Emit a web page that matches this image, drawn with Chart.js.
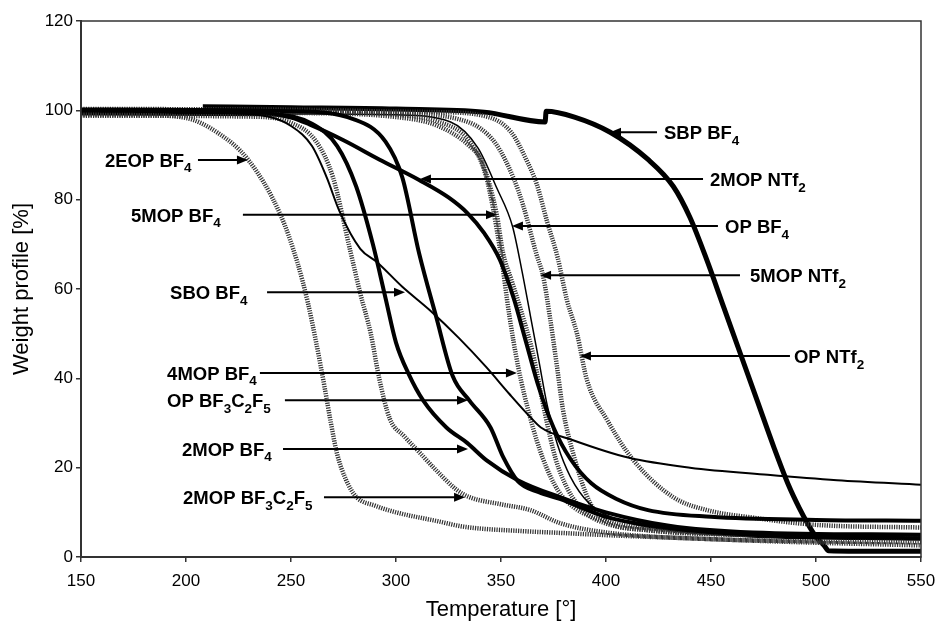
<!DOCTYPE html>
<html>
<head>
<meta charset="utf-8">
<script src="https://cdn.jsdelivr.net/npm/chart.js@4"></script>
<style>
  html, body { margin: 0; background: #fff; }
  #wrap { width: 937px; height: 623px; }
</style>
</head>
<body>
<div id="wrap"><canvas id="tga"></canvas></div>
<script>
// axis ticks
const xTicks = [150, 200, 250, 300, 350, 400, 450, 500, 550];
const yTicks = [0, 20, 40, 60, 80, 100, 120];

// temperature [°] / weight [%]
const t2EOP = [150, 180, 200, 215, 229.5, 245, 253, 258, 262, 266, 269, 272, 276, 281, 290, 300, 320, 332, 360, 378, 400, 450, 500, 550];
const w2EOP = [99.0, 98.9, 98.3, 95, 89, 76.6, 66, 57, 48, 38, 30, 23, 17.5, 13.5, 11.5, 10, 8, 6.8, 5.8, 5.4, 4.9, 4, 3.2, 2.6];

const tSBO = [150, 220, 240, 250, 260, 267, 273, 283, 291, 303, 316, 330, 343, 354, 364, 369, 384, 411, 440, 477, 510, 550];
const wSBO = [99.6, 99.4, 98.5, 96.5, 92, 85, 77.5, 69, 66, 60.5, 55.3, 49, 42.5, 36.5, 31.3, 29, 26.2, 22.2, 20, 18.4, 17.2, 16.2];

const t2MOPBF3 = [150, 230, 250, 262, 270, 278, 283, 288, 292, 297, 304, 310, 320, 329, 335, 350, 364, 378, 400, 450, 500, 550];
const w2MOPBF3 = [98.8, 98.6, 97.2, 93, 85, 69, 59, 50, 40, 31, 27, 24, 19, 15, 13.4, 11.8, 10.5, 7.6, 5.5, 4, 3.5, 3.3];

const t2MOPBF4 = [150, 240, 260, 272, 281, 289, 295, 300, 306, 313, 324, 334, 343, 358, 378, 400, 430, 470, 550];
const w2MOPBF4 = [99.3, 99.1, 97, 92, 83, 70, 58, 48, 41, 35, 29, 25.5, 21.7, 17.2, 13.4, 10, 7, 5.5, 5];

const tOPBF3 = [150, 250, 280, 295, 303, 311, 319, 327, 335, 345, 351, 358, 368, 378, 400, 430, 470, 550];
const wOPBF3 = [100.2, 99.8, 98, 93, 85, 68, 54, 40.5, 35, 29, 22.4, 17, 14.5, 13, 9, 6.5, 5, 4.2];

const t2MOPNTf2 = [150, 230, 250, 259, 275, 292, 311, 325, 334, 342, 349.5, 356, 362, 368, 375, 383, 393, 405, 420, 450, 500, 550];
const w2MOPNTf2 = [99.8, 99.5, 98.4, 96.8, 93.3, 89, 84.4, 80.5, 77, 72.5, 66.5, 58, 48, 38, 29, 22, 16.5, 13, 10.5, 9, 8.3, 8.1];

const t5MOPBF4 = [150, 250, 300, 320, 335, 341, 348, 351, 355, 359, 365, 371, 376, 382, 390, 400, 420, 450, 500, 550];
const w5MOPBF4 = [99.5, 99.4, 98.5, 96.5, 92, 88.4, 76.6, 68, 62, 56, 46, 32, 22, 15, 10, 7.5, 6, 5.2, 4.7, 4.5];

const t4MOPBF4 = [150, 250, 300, 320, 335, 343, 349.5, 354, 358, 364, 370, 377, 385, 400, 430, 470, 550];
const w4MOPBF4 = [100.0, 99.8, 99, 97.5, 93, 85, 69, 54, 43, 31, 22, 15, 11, 8, 6, 5, 4.8];

const tOPBF4 = [150, 260, 300, 326, 339, 348, 355.5, 360, 364, 368, 372, 377, 383, 392, 405, 430, 470, 550];
const wOPBF4 = [99.2, 99.2, 99, 97.4, 91.6, 82.6, 74, 64, 54, 44, 34, 25, 18, 12, 8.5, 6, 4.5, 3.8];

const t5MOPNTf2 = [150, 260, 300, 330, 340, 348, 356, 360.5, 367, 370, 373.3, 376.7, 379.5, 384.3, 392.4, 400, 420, 460, 550];
const w5MOPNTf2 = [100.3, 100.1, 99.5, 98, 96, 92.2, 84.8, 78.8, 67.6, 63, 53.7, 42.5, 33, 23.3, 12.1, 8, 6, 5, 4.5];

const tOPNTf2 = [150, 270, 320, 344, 355, 362, 367, 372, 377, 381.4, 386.2, 391, 400.5, 413, 432, 448, 470, 500, 550];
const wOPNTf2 = [99.9, 99.8, 99.6, 98.5, 95, 89, 83.5, 75, 67, 57.5, 50, 39.5, 30.7, 21.7, 13.4, 10.5, 8.8, 7.2, 6.6];

const tSBP = [208, 250, 300, 342, 371, 371.5, 385, 402, 420, 432, 440, 448, 456, 464, 472, 480, 487, 492, 496, 500, 504, 506, 520, 550];
const wSBP = [100.8, 100.6, 100.3, 99.6, 97.4, 99.8, 98.5, 95.1, 89, 83, 76, 66.5, 56, 45.5, 35, 24.5, 16, 11, 7.5, 4.5, 2.5, 1.4, 1.3, 1.3];

function pts(t, w) {
  return t.map((v, i) => ({ x: v, y: w[i] }));
}

function solid(label, t, w, width) {
  return { label: label, data: pts(t, w), borderColor: '#000', borderWidth: width,
           pointRadius: 0, fill: false, cubicInterpolationMode: 'monotone' };
}

// the marker-symbol curves look like a grey hatched band
function hatched(label, t, w) {
  return { label: label, data: pts(t, w), borderColor: '#333', borderWidth: 4.5,
           borderDash: [1.2, 1.2], pointRadius: 0, fill: false, cubicInterpolationMode: 'monotone' };
}

const datasets = [
  hatched('2EOP BF4', t2EOP, w2EOP),
  solid('SBO BF4', tSBO, wSBO, 2),
  hatched('2MOP BF3C2F5', t2MOPBF3, w2MOPBF3),
  solid('2MOP BF4', t2MOPBF4, w2MOPBF4, 4),
  solid('OP BF3C2F5', tOPBF3, wOPBF3, 4),
  solid('2MOP NTf2', t2MOPNTf2, w2MOPNTf2, 4),
  hatched('5MOP BF4', t5MOPBF4, w5MOPBF4),
  hatched('4MOP BF4', t4MOPBF4, w4MOPBF4),
  solid('OP BF4', tOPBF4, wOPBF4, 1.5),
  hatched('5MOP NTf2', t5MOPNTf2, w5MOPNTf2),
  hatched('OP NTf2', tOPNTf2, wOPNTf2),
  solid('SBP BF4', tSBP, wSBP, 5)
];

// labels: text start, arrow y, arrow tail, arrow tip (all in data units); [text, isSubscript]
const notes = [
  { parts: [['2EOP BF', 0], ['4', 1]], tx: 161.4, y: 88.9, tail: 205.7, tip: 229.5 },
  { parts: [['5MOP BF', 0], ['4', 1]], tx: 173.8, y: 76.6, tail: 227.1, tip: 348.1 },
  { parts: [['SBO BF', 0], ['4', 1]], tx: 192.4, y: 59.3, tail: 238.6, tip: 304.3 },
  { parts: [['4MOP BF', 0], ['4', 1]], tx: 191, y: 41.2, tail: 235.2, tip: 357.6 },
  { parts: [['OP BF', 0], ['3', 1], ['C', 0], ['2', 1], ['F', 0], ['5', 1]], tx: 191, y: 35.1, tail: 247.1, tip: 334.3 },
  { parts: [['2MOP BF', 0], ['4', 1]], tx: 198.1, y: 24.2, tail: 246.2, tip: 334.3 },
  { parts: [['2MOP BF', 0], ['3', 1], ['C', 0], ['2', 1], ['F', 0], ['5', 1]], tx: 198.6, y: 13.4, tail: 265.7, tip: 332.9 },
  { parts: [['SBP BF', 0], ['4', 1]], tx: 427.6, y: 95.1, tail: 424.3, tip: 401.9 },
  { parts: [['2MOP NTf', 0], ['2', 1]], tx: 449.5, y: 84.6, tail: 446.2, tip: 311.4 },
  { parts: [['OP BF', 0], ['4', 1]], tx: 456.7, y: 74.1, tail: 453.3, tip: 355.2 },
  { parts: [['5MOP NTf', 0], ['2', 1]], tx: 468.6, y: 63.1, tail: 463.8, tip: 368.6 },
  { parts: [['OP NTf', 0], ['2', 1]], tx: 489.5, y: 45, tail: 487.6, tip: 387.6 }
];

const noteLayer = {
  id: 'noteLayer',
  afterDatasetsDraw(chart) {
    const ctx = chart.ctx, xs = chart.scales.x, ys = chart.scales.y;
    ctx.save();
    ctx.fillStyle = '#000';
    ctx.strokeStyle = '#000';
    notes.forEach(n => {
      const py = ys.getPixelForValue(n.y);
      const a = xs.getPixelForValue(n.tail), b = xs.getPixelForValue(n.tip);
      const dir = b > a ? 1 : -1;
      ctx.lineWidth = 2;
      ctx.beginPath();
      ctx.moveTo(a, py);
      ctx.lineTo(b - dir * 8, py);
      ctx.stroke();
      ctx.beginPath();
      ctx.moveTo(b, py);
      ctx.lineTo(b - dir * 11, py - 4.5);
      ctx.lineTo(b - dir * 11, py + 4.5);
      ctx.closePath();
      ctx.fill();
      let x = xs.getPixelForValue(n.tx);
      ctx.textBaseline = 'alphabetic';
      ctx.textAlign = 'left';
      n.parts.forEach(p => {
        ctx.font = p[1] ? 'bold 13.5px Arial, "Liberation Sans"' : 'bold 18.5px Arial, "Liberation Sans"';
        const by = p[1] ? py + 12.5 : py + 7;
        ctx.fillText(p[0], x, by);
        x += ctx.measureText(p[0]).width;
      });
    });
    ctx.restore();
  },
  afterDraw(chart) {
    const c = chart.chartArea, ctx = chart.ctx;
    ctx.save();
    ctx.strokeStyle = '#333';
    ctx.lineWidth = 1.5;
    ctx.strokeRect(c.left, c.top, c.right - c.left, c.bottom - c.top);
    ctx.restore();
  }
};

const config = {
  type: 'line',
  data: { datasets: datasets },
  plugins: [noteLayer],
  options: {
    responsive: true,
    maintainAspectRatio: false,
    animation: false,
    layout: { padding: { top: 21, right: 16, left: 9, bottom: 0 } },
    plugins: {
      legend: { display: false },
      tooltip: { enabled: false }
    },
    scales: {
      x: {
        type: 'linear',
        min: 150,
        max: 550,
        afterBuildTicks: s => { s.ticks = xTicks.map(v => ({ value: v })); },
        afterFit: s => { s.height = 66; s.paddingRight = 0; s.paddingLeft = 0; },
        grid: { display: true, drawOnChartArea: false, tickLength: 5, color: '#333', lineWidth: 1.5 },
        border: { color: '#333', width: 2 },
        ticks: { color: '#000', font: { family: 'Arial, "Liberation Sans"', size: 17 }, padding: 9, maxRotation: 0 },
        title: { display: true, text: 'Temperature [°]', color: '#000',
                 font: { family: 'Arial, "Liberation Sans"', size: 22 }, padding: { top: 0, bottom: 0 } }
      },
      y: {
        min: 0,
        max: 120,
        afterBuildTicks: s => { s.ticks = yTicks.map(v => ({ value: v })); },
        afterFit: s => { s.width = 72; },
        grid: { display: true, drawOnChartArea: false, tickLength: 5, color: '#333', lineWidth: 1.5 },
        border: { color: '#333', width: 2 },
        ticks: { color: '#000', font: { family: 'Arial, "Liberation Sans"', size: 17 }, padding: 3 },
        title: { display: true, text: 'Weight profile [%]', color: '#000',
                 font: { family: 'Arial, "Liberation Sans"', size: 22 }, padding: { top: 0, bottom: 0 } }
      }
    }
  }
};

const tgaChart = new Chart(document.getElementById('tga'), config);
</script>
</body>
</html>
